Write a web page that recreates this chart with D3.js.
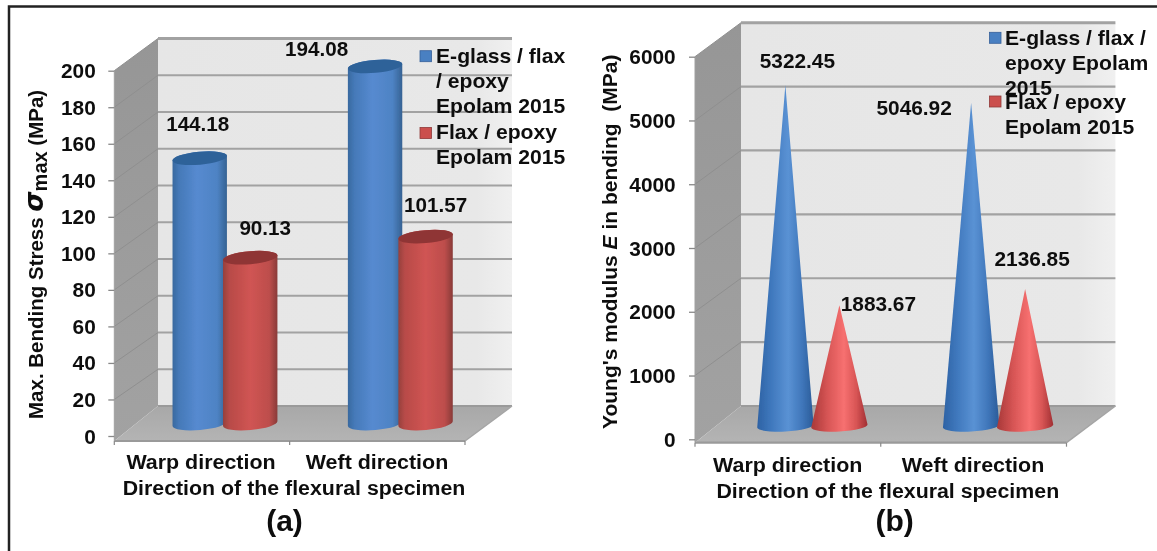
<!DOCTYPE html>
<html><head><meta charset="utf-8">
<script src="https://cdnjs.cloudflare.com/ajax/libs/d3/7.8.5/d3.min.js"></script>
<style>html,body{margin:0;padding:0;background:#fff}svg{display:block}
text{font-family:"Liberation Sans",Arial,sans-serif;font-weight:bold;fill:#111}</style>
</head><body><svg id="c" width="1157" height="551"></svg>
<script>
const categories = ["Warp direction", "Weft direction"];
const seriesNames = ["E-glass / flax / epoxy Epolam 2015", "Flax / epoxy Epolam 2015"];
const stressGlass = [144.18, 194.08];
const stressFlax = [90.13, 101.57];
const modulusGlass = [5322.45, 5046.92];
const modulusFlax = [1883.67, 2136.85];
const stressTicks = [0,20,40,60,80,100,120,140,160,180,200];
const modulusTicks = [0,1000,2000,3000,4000,5000,6000];
const legendLinesA = [["E-glass / flax","/ epoxy","Epolam 2015"],["Flax / epoxy","Epolam 2015"]];
const legendLinesB = [["E-glass / flax /","epoxy Epolam","2015"],["Flax / epoxy","Epolam 2015"]];
const xTitle = "Direction of the flexural specimen";

const svg = d3.select("#c");
const defs = svg.append("defs");
defs.append("filter").attr("id","soft").attr("x","0").attr("y","0").attr("width","1").attr("height","1")
  .attr("filterUnits","objectBoundingBox")
  .append("feGaussianBlur").attr("stdDeviation",0.45);
function grad(id, stops, horizontal=true){
  const g = defs.append("linearGradient").attr("id",id).attr("x1",0).attr("y1",0)
    .attr("x2",horizontal?1:0).attr("y2",horizontal?0:1);
  stops.forEach(([o,c,a])=>g.append("stop").attr("offset",o).attr("stop-color",c).attr("stop-opacity",a==null?1:a));
}
grad("blueBody",[[0,"#38699f"],[.12,"#4579b8"],[.45,"#568ad0"],[.82,"#4e83c4"],[1,"#356293"]]);
grad("redBody",[[0,"#96403d"],[.12,"#b84b48"],[.5,"#d05453"],[.85,"#bd4e4c"],[1,"#893a38"]]);
grad("blueCone",[[0,"#2d62a4"],[.25,"#3f78bd"],[.55,"#5a92d4"],[.8,"#3f76ba"],[1,"#2a5b98"]]);
grad("redCone",[[0,"#a83838"],[.3,"#d85656"],[.58,"#f77070"],[.8,"#d85555"],[1,"#a02f33"]]);
grad("wall",[[0,"#e6e6e6"],[.9,"#e8e8e8"],[1,"#f0f0f0"]]);
grad("side",[[0,"#969696"],[1,"#a2a2a2"]],false);
grad("floor",[[0,"#a8a8a8"],[1,"#b4b4b4"]],false);

const root = svg.append("g").attr("filter","url(#soft)");
root.append("rect").attr("width",1157).attr("height",551).attr("fill","#fff");
root.append("path").attr("d","M9,551V6.5H1157").attr("fill","none").attr("stroke","#222").attr("stroke-width",2.5);

function label(g, txt, x, y, size, sx, anchor){
  return g.append("text").attr("transform",`translate(${x},${y}) scale(${sx},1)`)
    .attr("text-anchor",anchor||"middle").attr("font-size",size).text(txt);
}

function panel(o){
  const g = root.append("g");
  const yAxis = d3.scaleLinear().domain(o.dom).range(o.axisR);
  const yWall = d3.scaleLinear().domain(o.dom).range(o.wallR);
  const yMark = d3.scaleLinear().domain(o.dom).range(o.markR);
  const xFront = d3.scaleBand().domain(categories).range([o.x0,o.x1]);
  const xMark = d3.scaleBand().domain(categories).range([o.x0+o.shift,o.x1+o.shift]);
  const xSer = d3.scaleBand().domain(seriesNames).range([-o.serW,o.serW]);
  const top = o.dom[1];
  const xb0=o.xb0, xb1=o.xb1, fy=o.floorY, by=yWall(0);
  // walls
  g.append("rect").attr("x",xb0).attr("y",yWall(top)).attr("width",xb1-xb0).attr("height",by-yWall(top)).attr("fill","url(#wall)");
  g.append("path").attr("d",d3.line()([[o.x0,yAxis(top)],[xb0,yWall(top)],[xb0,by],[o.x0,fy]])+"Z").attr("fill","url(#side)");
  g.append("path").attr("d",d3.line()([[xb0,by],[xb1,by],[o.x1,fy],[o.x0,fy]])+"Z").attr("fill","url(#floor)");
  // gridlines
  o.ticks.forEach(t=>{
    if(t>0) g.append("line").attr("x1",o.x0).attr("y1",yAxis(t)).attr("x2",xb0).attr("y2",yWall(t)).attr("stroke","#8f8f8f").attr("stroke-width",1);
    g.append("line").attr("x1",xb0).attr("y1",yWall(t)).attr("x2",xb1).attr("y2",yWall(t)).attr("stroke",t==0?"#9a9a9a":"#a2a2a2").attr("stroke-width",t==top?3:2.2);
  });
  g.append("line").attr("x1",xb1).attr("y1",by).attr("x2",o.x1).attr("y2",fy).attr("stroke","#a5a5a5").attr("stroke-width",1.5);
  g.append("line").attr("x1",o.x0).attr("y1",fy).attr("x2",o.x1).attr("y2",fy).attr("stroke","#9a9a9a").attr("stroke-width",2.2);
  g.append("line").attr("x1",o.x0).attr("y1",yAxis(top)).attr("x2",o.x0).attr("y2",fy).attr("stroke","#a0a0a0").attr("stroke-width",1);
  // x ticks
  [o.x0,...categories.map(c=>xFront(c)+xFront.bandwidth())].forEach(x=>
    g.append("line").attr("x1",x).attr("x2",x).attr("y1",fy).attr("y2",fy+4).attr("stroke","#888").attr("stroke-width",1.2));
  // y axis
  const ax = g.append("g").attr("transform",`translate(${o.x0},0)`)
    .call(d3.axisLeft(yAxis).tickValues(o.ticks).tickSize(6).tickPadding(o.tickPad).tickFormat(d3.format("d")));
  ax.select(".domain").remove();
  ax.selectAll(".tick line").attr("stroke","#888").attr("stroke-width",1.3);
  ax.selectAll(".tick text").attr("font-size",19.5).attr("dy",0)
    .attr("transform",function(){return `translate(0,${o.tickDy}) scale(1.07,1)`;})
    .attr("x",-(6+o.tickPad)/1.07).style("fill","#111");
  // marks
  o.series.forEach((vals,si)=>{
    const name=seriesNames[si];
    categories.forEach((c,ci)=>{
      const cx=xMark(c)+xMark.bandwidth()/2+xSer(name)+xSer.bandwidth()/2, v=vals[ci], ty=yMark(v), by0=yMark(0);
      const rx=o.rx, ry=o.ry, t=o.tilt*Math.PI/180, dx=rx*Math.cos(t), dy=rx*Math.sin(t);
      if(o.kind==="cylinder"){
        g.append("path").attr("fill",`url(#${si?"redBody":"blueBody"})`).attr("d",
          `M${cx-dx},${ty-dy}L${cx-dx},${by0-dy}A${rx},${ry} ${o.tilt} 0 0 ${cx+dx},${by0+dy}L${cx+dx},${ty+dy}A${rx},${ry} ${o.tilt} 0 0 ${cx-dx},${ty-dy}Z`);
        g.append("ellipse").attr("rx",rx).attr("ry",ry).attr("fill",si?"#8f3535":"#2f6299")
          .attr("transform",`translate(${cx},${ty}) rotate(${o.tilt})`);
      } else {
        g.append("path").attr("fill",`url(#${si?"redCone":"blueCone"})`).attr("d",
          `M${cx-dx},${by0-dy}L${cx},${ty}L${cx+dx},${by0+dy}A${rx},${ry} ${o.tilt} 0 1 ${cx-dx},${by0-dy}Z`);
      }
    });
  });
  // value labels
  o.series.forEach((vals,si)=>categories.forEach((c,ci)=>{
    const cx=xMark(c)+xMark.bandwidth()/2+xSer(seriesNames[si])+xSer.bandwidth()/2;
    const [ox,oy]=o.labelOffsets[si][ci];
    label(g,d3.format(".2f")(vals[ci]),cx+ox,yMark(vals[ci])+oy,19.5,o.valSx);
  }));
  // legend
  o.legend.forEach((lines,si)=>{
    const l=o.legendPos[si];
    g.append("rect").attr("x",o.legX).attr("y",l.sy).attr("width",11.5).attr("height",11).attr("fill",si?"#cb4f4d":"#4a80c2").attr("stroke",si?"#8f3a38":"#35609a").attr("stroke-width",.8);
    lines.forEach((s,i)=>label(g,s,o.legX+o.legTx,l.by+i*o.legLead,19.5,1.085,"start"));
  });
  // x labels
  categories.forEach((c,i)=>label(g,c,o.catX[i],o.catY,19.5,1.1));
  label(g,xTitle,o.titleX,o.titleY,19.5,1.095);
  g.append("text").attr("x",o.tagX).attr("y",531).attr("text-anchor","middle").attr("font-size",o.tagSize).text(o.tag);
  // y title
  const yt=g.append("text").attr("transform",`translate(${o.ytX},${o.ytY}) rotate(-90)`).attr("font-size",o.ytSize);
  o.yTitle(yt);
}

panel({kind:"cylinder",dom:[0,200],ticks:stressTicks,axisR:[436,70.7],wallR:[406,38.5],markR:[423.5,55.5],
  x0:114.3,x1:465,xb0:158,xb1:512,floorY:441,shift:23,serW:50.5,rx:27.3,ry:6.5,tilt:-5,tickPad:12.5,tickDy:7,
  series:[stressGlass,stressFlax],valSx:1.06,
  labelOffsets:[[[-2,-27],[-58.5,-10.7]],[[15,-23],[10,-25]]],
  legend:legendLinesA,legX:420,legTx:16,legLead:25,legendPos:[{sy:50.7,by:62.5},{sy:127.5,by:139}],
  catX:[201,377],catY:469,titleX:294,titleY:495,tag:"(a)",tagX:284.5,tagSize:30,
  ytX:43,ytY:419,ytSize:20.5,
  yTitle:t=>{t.append("tspan").text("Max. Bending Stress ");
    t.append("tspan").attr("font-style","italic").attr("font-size",26).attr("font-family","DejaVu Sans").text("σ");
    t.append("tspan").attr("dy",4).attr("font-size",20).text("max");
    t.append("tspan").attr("dy",-4).text("\u00a0(MPa)");}});

panel({kind:"cone",dom:[0,6000],ticks:modulusTicks,axisR:[439.3,56.7],wallR:[406,22.7],markR:[426,41.6],
  x0:695,x1:1066.5,xb0:741,xb1:1115.4,floorY:442.7,shift:24.5,serW:54,rx:28.2,ry:5.5,tilt:-3,tickPad:13.3,tickDy:7,
  series:[modulusGlass,modulusFlax],valSx:1.07,
  labelOffsets:[[[12,-17.3],[-57,12.7]],[[39,6],[7,-23]]],
  legend:legendLinesB,legX:989.5,legTx:15.5,legLead:25,legendPos:[{sy:32.3,by:45},{sy:96,by:109}],
  catX:[787.7,973],catY:471.7,titleX:887.8,titleY:497.7,tag:"(b)",tagX:894.6,tagSize:30,
  ytX:617,ytY:429,ytSize:21,
  yTitle:t=>{t.append("tspan").text("Young's modulus ");
    t.append("tspan").attr("font-style","italic").text("E");
    t.append("tspan").text(" in bending\u00a0\u00a0(MPa)");}});
</script></body></html>
